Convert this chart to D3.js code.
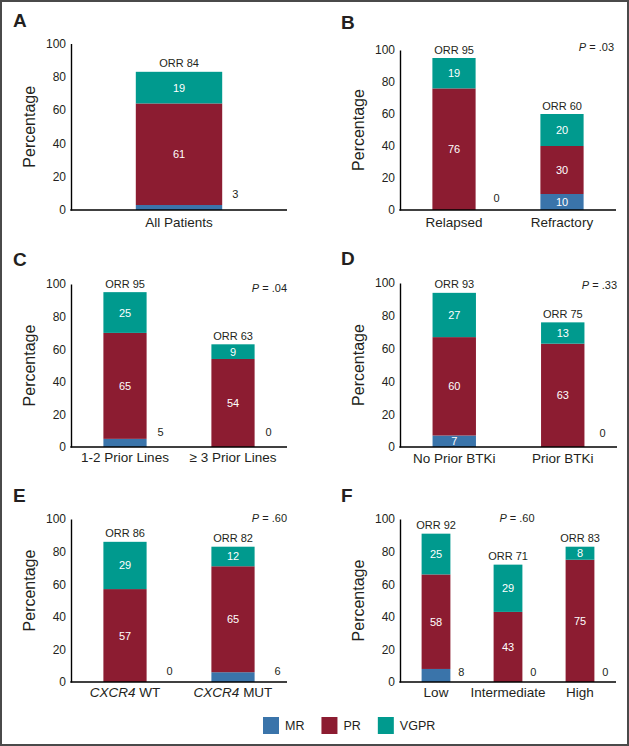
<!DOCTYPE html>
<html>
<head>
<meta charset="utf-8">
<script src="https://cdn.jsdelivr.net/npm/d3@7"></script>
<style>
  html, body { margin: 0; padding: 0; background: #fff; }
  svg { display: block; font-family: "Liberation Sans", Arial, Helvetica, sans-serif; }
</style>
</head>
<body>
<svg id="chart" width="629" height="746"></svg>
<script>
// ---------------- DATA ----------------
const panelIds = ["A", "B", "C", "D", "E", "F"];
const categories = [
  ["All Patients"],
  ["Relapsed", "Refractory"],
  ["1-2 Prior Lines", "\u2265 3 Prior Lines"],
  ["No Prior BTKi", "Prior BTKi"],
  ["CXCR4 WT", "CXCR4 MUT"],
  ["Low", "Intermediate", "High"]
];
const mrValues   = [[3], [0, 10], [5, 0], [7, 0], [0, 6], [8, 0, 0]];
const prValues   = [[61], [76, 30], [65, 54], [60, 63], [57, 65], [58, 43, 75]];
const vgprValues = [[19], [19, 20], [25, 9], [27, 13], [29, 12], [25, 29, 8]];
const orrValues  = [[84], [95, 60], [95, 63], [93, 75], [86, 82], [92, 71, 83]];
const pValues    = [null, ".03", ".04", ".33", ".60", ".60"];
const yTicks     = [0, 20, 40, 60, 80, 100];
const seriesNames = ["MR", "PR", "VGPR"];
const seriesColors = ["#3a74aa", "#8c1c31", "#009a8e"];

// ---------------- LAYOUT ----------------
const layout = [
  { x0: 71,  x1: 287, y0: 210, y100: 43.5, lx: 13,  ly: 27,  catDy: 17, mrDx: 13, mrDy: -16, pX: null, pAnchor: "end", pDy: 0, labDy: 0 },
  { x0: 400, x1: 616, y0: 210, y100: 50,   lx: 341, ly: 29,  catDy: 17, mrDx: 21, mrDy: -12, pX: 614, pAnchor: "end", pDy: 1, labDy: 0 },
  { x0: 71,  x1: 287, y0: 447, y100: 284,  lx: 13,  ly: 266, catDy: 15, mrDx: 14, mrDy: -15, pX: 287, pAnchor: "end", pDy: 8, labDy: 0 },
  { x0: 400, x1: 617, y0: 447, y100: 283,  lx: 341, ly: 265, catDy: 16, mrDx: 18, mrDy: -14, pX: 617, pAnchor: "end", pDy: 6, labDy: 0 },
  { x0: 71,  x1: 287, y0: 682, y100: 519,  lx: 13,  ly: 502, catDy: 15, mrDx: 23, mrDy: -11, pX: 287, pAnchor: "end", pDy: 3, labDy: -10 },
  { x0: 400, x1: 616, y0: 682, y100: 519,  lx: 341, ly: 502, catDy: 15, mrDx: 11, mrDy: -10, pX: 517, pAnchor: "middle", pDy: 3, labDy: 0 }
];

const svg = d3.select("#chart");
const textColor = "#231f20";

// outer frame
svg.append("rect")
  .attr("x", 1).attr("y", 1).attr("width", 627).attr("height", 744)
  .attr("fill", "none").attr("stroke", "#4a4a4a").attr("stroke-width", 2);

panelIds.forEach((id, i) => {
  const L = layout[i];
  const g = svg.append("g");
  const cats = categories[i];

  const x = d3.scaleBand().domain(cats).range([L.x0, L.x1])
    .paddingInner(0.6).paddingOuter(0.3);
  const y = d3.scaleLinear().domain([0, 100]).range([L.y0, L.y100]);

  // stacked data
  const rows = cats.map((c, j) => ({
    cat: c, MR: mrValues[i][j], PR: prValues[i][j], VGPR: vgprValues[i][j], ORR: orrValues[i][j]
  }));
  const stack = d3.stack().keys(seriesNames)(rows);

  stack.forEach((layer, k) => {
    g.selectAll(null).data(layer).enter().append("rect")
      .attr("x", d => x(d.data.cat))
      .attr("width", x.bandwidth())
      .attr("y", d => y(d[1]))
      .attr("height", d => Math.max(0, y(d[0]) - y(d[1])))
      .attr("fill", seriesColors[k]);
  });

  // segment labels
  stack.forEach((layer, k) => {
    layer.forEach(d => {
      const v = d.data[seriesNames[k]];
      const cx = x(d.data.cat) + x.bandwidth() / 2;
      if (k === 0) {
        const inside = v >= 7 && x.bandwidth() > 40;
        if (inside) {
          g.append("text").attr("x", cx).attr("y", (y(d[0]) + y(d[1])) / 2)
            .attr("text-anchor", "middle").attr("dominant-baseline", "central")
            .attr("font-size", 11).attr("fill", "#fff").text(v);
        } else {
          g.append("text").attr("x", x(d.data.cat) + x.bandwidth() + L.mrDx)
            .attr("y", L.y0 + L.mrDy)
            .attr("text-anchor", "middle").attr("dominant-baseline", "central")
            .attr("font-size", 11).attr("fill", textColor).text(v);
        }
      } else if (v > 0) {
        g.append("text").attr("x", cx).attr("y", (y(d[0]) + y(d[1])) / 2)
          .attr("text-anchor", "middle").attr("dominant-baseline", "central")
          .attr("font-size", 11).attr("fill", "#fff").text(v);
      }
    });
  });

  // ORR labels
  rows.forEach(r => {
    const top = r.MR + r.PR + r.VGPR;
    g.append("text")
      .attr("x", x(r.cat) + x.bandwidth() / 2)
      .attr("y", y(top) - 4.5)
      .attr("text-anchor", "middle")
      .attr("font-size", 11).attr("fill", textColor)
      .text("ORR " + r.ORR);
  });

  // y axis
  const yAxis = d3.axisLeft(y).tickValues(yTicks).tickSize(0).tickPadding(5);
  const ya = g.append("g").attr("transform", `translate(${L.x0},0)`).call(yAxis);
  ya.select(".domain").attr("stroke", "#000").attr("stroke-width", 1.4);
  ya.selectAll("text").attr("font-size", 12).attr("fill", textColor)
    .attr("font-family", "'Liberation Sans', Arial, sans-serif");

  // x axis line
  g.append("line").attr("x1", L.x0 - 0.7).attr("x2", L.x1).attr("y1", L.y0).attr("y2", L.y0)
    .attr("stroke", "#000").attr("stroke-width", 1.5);

  // category labels
  cats.forEach(c => {
    const t = g.append("text")
      .attr("x", x(c) + x.bandwidth() / 2)
      .attr("y", L.y0 + L.catDy)
      .attr("text-anchor", "middle")
      .attr("font-size", 13.5).attr("fill", textColor);
    if (c.startsWith("CXCR4")) {
      t.append("tspan").attr("font-style", "italic").text("CXCR4");
      t.append("tspan").text(c.slice(5));
    } else {
      t.text(c);
    }
  });

  // y title
  const ty = (L.y0 + L.y100) / 2 + L.labDy;
  g.append("text")
    .attr("transform", `translate(${L.x0 - 36},${ty}) rotate(-90)`)
    .attr("text-anchor", "middle")
    .attr("font-size", 16).attr("fill", textColor)
    .text("Percentage");

  // panel letter
  g.append("text").attr("x", L.lx).attr("y", L.ly)
    .attr("font-size", 19).attr("font-weight", "bold").attr("fill", textColor)
    .text(id);

  // P value
  if (pValues[i] !== null) {
    const pt = g.append("text")
      .attr("x", L.pX).attr("y", L.y100 + L.pDy)
      .attr("text-anchor", L.pAnchor)
      .attr("font-size", 11).attr("fill", textColor);
    pt.append("tspan").attr("font-style", "italic").text("P");
    pt.append("tspan").text(" = " + pValues[i]);
  }
});

// legend
const legend = svg.append("g");
let lxPos = 263;
seriesNames.forEach((name, k) => {
  legend.append("rect").attr("x", lxPos).attr("y", 717).attr("width", 16).attr("height", 17)
    .attr("fill", seriesColors[k]);
  const t = legend.append("text").attr("x", lxPos + 22).attr("y", 730)
    .attr("font-size", 12.5).attr("fill", textColor).text(name);
  lxPos = lxPos + 22 + t.node().getComputedTextLength() + 17;
});
</script>
</body>
</html>
